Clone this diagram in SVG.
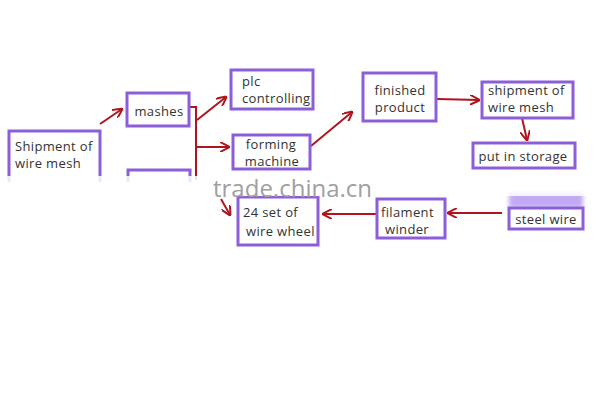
<svg xmlns="http://www.w3.org/2000/svg" width="600" height="400" viewBox="0 0 600 400">
<defs>
<marker id="ah" viewBox="0 0 10 10" refX="9" refY="5" markerWidth="5" markerHeight="5" orient="auto" markerUnits="strokeWidth">
<path d="M0,0 L10,5 L0,10" fill="none" stroke="#b0141c" stroke-width="2"/>
</marker>
<filter id="blur"><feGaussianBlur stdDeviation="2"/></filter>
</defs>
<style>
.box{fill:#fff;stroke:#8c5fd9;stroke-width:3}
.open{fill:none;stroke:#8c5fd9;stroke-width:3}
.t{font-family:"Open Sans","Liberation Sans",sans-serif;font-size:13px;letter-spacing:0.35px;fill:#333}
.c{stroke:#b0141c;stroke-width:2;fill:none}
.a{marker-end:url(#ah)}
.wm{font-family:"Open Sans","Liberation Sans",sans-serif;font-size:24px;fill:#a0a0a0}
</style>
<rect width="600" height="400" fill="#fff"/>
<g id="connectors">
<path class="c a" d="M100,124 L122,109"/>
<path class="c" d="M189,107 L196,107 L196,180"/>
<path class="c a" d="M197,120 L226,97"/>
<path class="c a" d="M197,147 L229,147"/>
<path class="c a" d="M221,199 L230,215"/>
<path class="c a" d="M311,146 L352,112"/>
<path class="c a" d="M437,99 L479,100"/>
<path class="c a" d="M522,118 L527,140"/>
<path class="c a" d="M502,213 L448,213"/>
<path class="c a" d="M376,214 L323,214"/>
</g>
<g id="n-shipment"><rect x="9" y="131" width="91" height="50" fill="#fff"/><path class="open" d="M9,182 V131 H100 V182"/>
<text class="t" x="15" y="151">Shipment of</text><text class="t" x="15" y="168">wire mesh</text></g>
<g id="n-mashes"><rect class="box" x="127" y="93" width="62" height="33"/>
<text class="t" x="159" y="116" text-anchor="middle">mashes</text></g>
<g id="n-hidden"><path class="open" d="M128,182 V170 H190 V182"/></g>
<g id="n-plc"><rect class="box" x="231" y="70" width="82" height="39"/>
<text class="t" x="242" y="86">plc</text><text class="t" x="242" y="103">controlling</text></g>
<g id="n-forming"><rect class="box" x="233" y="135" width="77" height="34"/>
<text class="t" x="271" y="149" text-anchor="middle">forming</text><text class="t" x="272" y="166" text-anchor="middle">machine</text></g>
<g id="n-24set"><rect class="box" x="238" y="197" width="80" height="48"/>
<text class="t" x="243" y="217">24 set of</text><text class="t" x="246" y="236">wire wheel</text></g>
<g id="n-finished"><rect class="box" x="363" y="73" width="73" height="48"/>
<text class="t" x="400" y="95" text-anchor="middle">finished</text><text class="t" x="400" y="112" text-anchor="middle">product</text></g>
<g id="n-shipment2"><rect class="box" x="482" y="82" width="91" height="36"/>
<text class="t" x="488" y="95">shipment of</text><text class="t" x="488" y="112">wire mesh</text></g>
<g id="n-storage"><rect class="box" x="473" y="143" width="102" height="25"/>
<text class="t" x="523" y="161" text-anchor="middle">put in storage</text></g>
<g id="n-filament"><rect class="box" x="377" y="199" width="68" height="39"/>
<text class="t" x="381" y="217">filament</text><text class="t" x="385" y="234">winder</text></g>
<g id="n-steel"><rect x="509" y="192" width="74" height="16" fill="#c2aaf3" filter="url(#blur)"/>
<rect class="box" x="509" y="208" width="74" height="21"/>
<text class="t" x="546" y="224" text-anchor="middle">steel wire</text></g>
<rect x="0" y="176" width="600" height="20" fill="#fff" opacity="0.85"/>
<text class="wm" x="213" y="197">trade.china.cn</text>
</svg>
